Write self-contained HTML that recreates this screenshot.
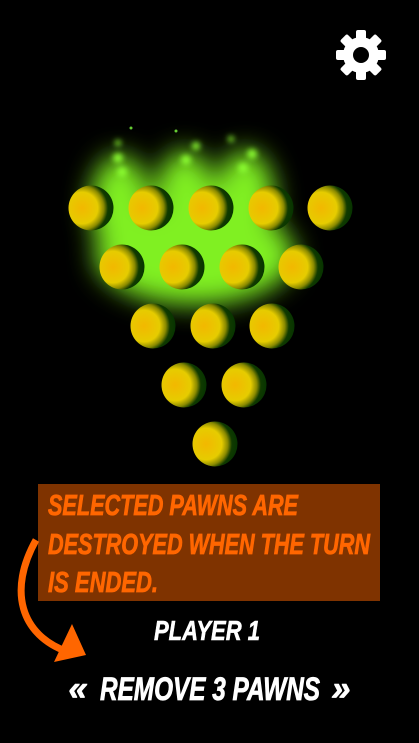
<!DOCTYPE html>
<html><head><meta charset="utf-8"><style>
html,body{margin:0;padding:0;background:#000;width:419px;height:743px;overflow:hidden}
svg{display:block}
.t{font-family:"Liberation Sans",sans-serif;font-weight:bold;font-style:italic}
</style></head><body>
<svg width="419" height="743" viewBox="0 0 419 743">
<defs>
<filter id="blur" x="-50%" y="-50%" width="200%" height="200%"><feGaussianBlur stdDeviation="13"/></filter>
<filter id="blur2" x="-50%" y="-50%" width="200%" height="200%"><feGaussianBlur stdDeviation="3"/></filter>
<radialGradient id="ball" cx="0.3" cy="0.5" r="0.78">
<stop offset="0" stop-color="#f2b800"/><stop offset="0.45" stop-color="#e6cc00"/><stop offset="0.62" stop-color="#8a8a00"/><stop offset="0.74" stop-color="#103a00"/><stop offset="1" stop-color="#003000"/>
</radialGradient>
</defs>
<g>
<g filter="url(#blur)" fill="#80f020">
<ellipse cx="195" cy="255" rx="100" ry="50"/>
<ellipse cx="120" cy="205" rx="30" ry="50"/>
<ellipse cx="185" cy="200" rx="30" ry="50"/>
<ellipse cx="245" cy="200" rx="30" ry="50"/>
</g>
<g filter="url(#blur2)" fill="#8cff30">
<circle cx="118" cy="158" r="5"/><circle cx="122" cy="172" r="5"/><circle cx="186" cy="160" r="5"/><circle cx="196" cy="146" r="4"/><circle cx="252" cy="154" r="5"/><circle cx="243" cy="168" r="5"/><circle cx="231" cy="139" r="3"/><circle cx="118" cy="143" r="3"/>
</g>
<circle cx="131" cy="128" r="1.5" fill="#6c3"/><circle cx="176" cy="131" r="1.5" fill="#6c3"/>
</g>
<g id="balls"></g>
<g transform="translate(361,55)">
<g fill="#fff">
<rect x="-5" y="-25" width="10" height="50" rx="2"/>
<rect x="-5" y="-25" width="10" height="50" rx="2" transform="rotate(45)"/>
<rect x="-5" y="-25" width="10" height="50" rx="2" transform="rotate(90)"/>
<rect x="-5" y="-25" width="10" height="50" rx="2" transform="rotate(135)"/>
<circle r="18"/>
</g>
<circle r="8" fill="#000"/>
</g>
<rect x="38" y="484" width="342" height="117" fill="#7f3300"/>
<g class="t" fill="#ff6600" font-size="29" stroke="#ff6600" stroke-width="0.8">
<text x="48" y="515" textLength="250" lengthAdjust="spacingAndGlyphs">SELECTED PAWNS ARE</text>
<text x="48" y="554" textLength="322" lengthAdjust="spacingAndGlyphs">DESTROYED WHEN THE TURN</text>
<text x="48" y="592" textLength="110" lengthAdjust="spacingAndGlyphs">IS ENDED.</text>
</g>
<g>
<path d="M36 540 C 8 590, 20 635, 68 652" fill="none" stroke="#ff6600" stroke-width="7"/>
<path d="M54 662 L 86 655 L 72 624 Z" fill="#ff6600"/>
</g>
<text class="t" x="207" y="640" fill="#fff" stroke="#fff" stroke-width="0.6" font-size="28" text-anchor="middle" textLength="106" lengthAdjust="spacingAndGlyphs">PLAYER 1</text>
<g fill="#fff" stroke="#fff" stroke-width="0.8">
<text class="t" x="78" y="700" font-size="34" text-anchor="middle">«</text>
<text class="t" x="210" y="700" font-size="32" text-anchor="middle" textLength="220" lengthAdjust="spacingAndGlyphs">REMOVE 3 PAWNS</text>
<text class="t" x="341" y="700" font-size="34" text-anchor="middle">»</text>
</g>
</svg>
<script>
const rowY=[208,267,326,385,444];
const rowX=[[91,151,211,271,330],[122,182,242,301],[153,213,272],[184,244],[215]];
const g=document.getElementById('balls');
rowX.forEach((xs,r)=>xs.forEach((x,i)=>{
const c=document.createElementNS('http://www.w3.org/2000/svg','circle');
c.setAttribute('cx',x);c.setAttribute('cy',rowY[r]);c.setAttribute('r',22.5);
c.setAttribute('fill','url(#ball)');


g.appendChild(c);
}));
</script>
</body></html>
